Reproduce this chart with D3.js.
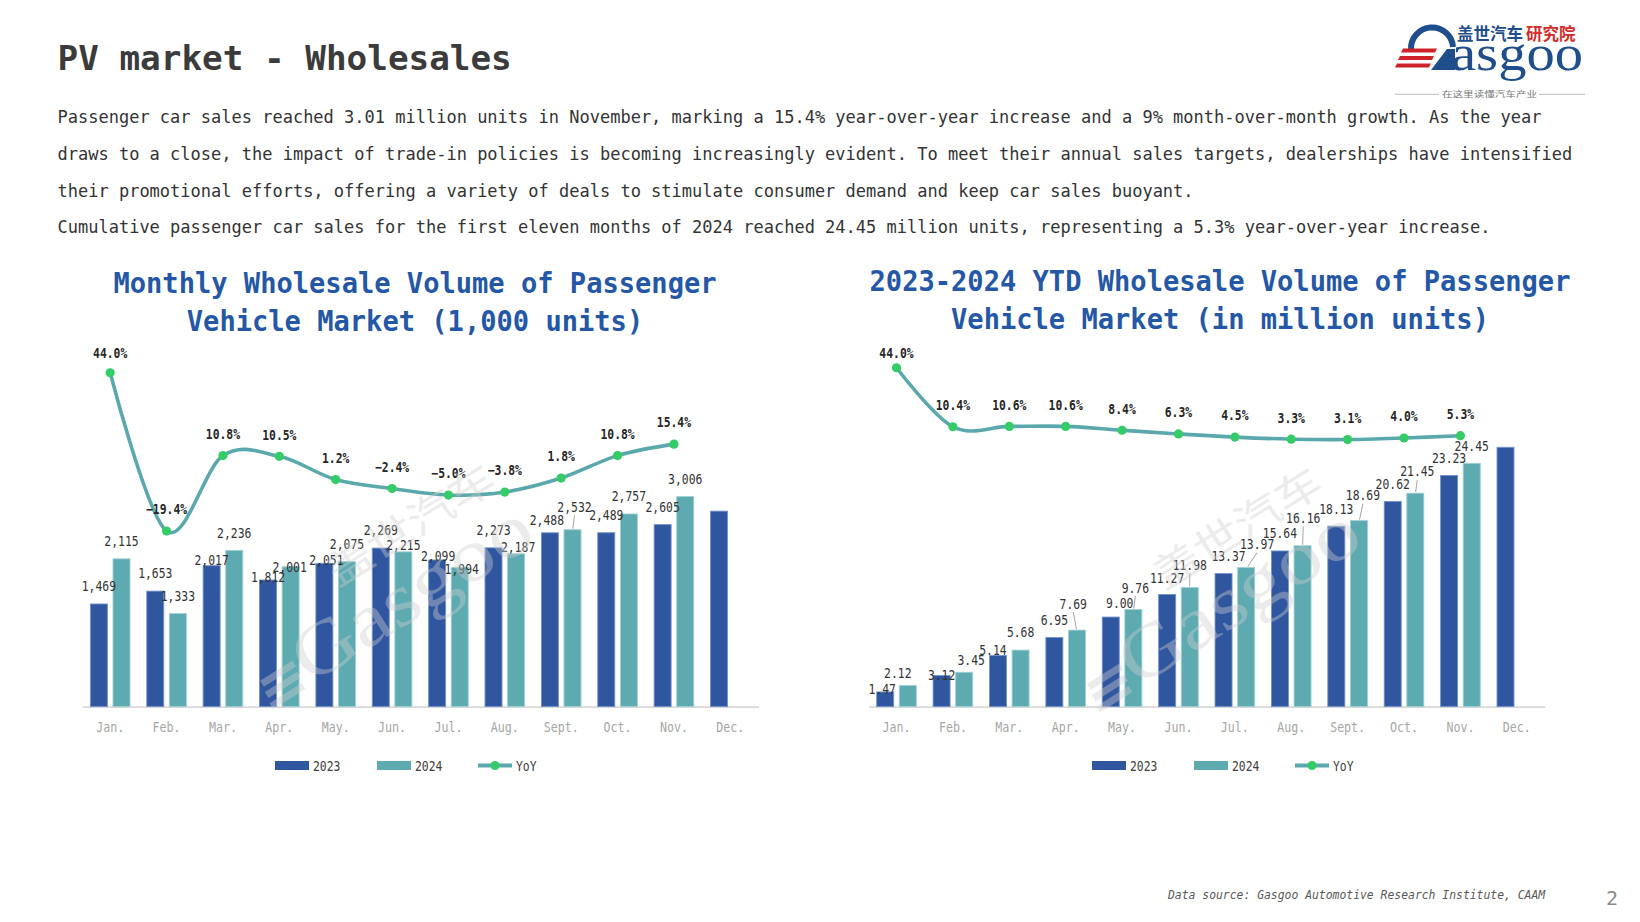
<!DOCTYPE html>
<html>
<head>
<meta charset="utf-8">
<script src="https://cdn.jsdelivr.net/npm/d3@7"></script>
<style>
  body { margin: 0; background: #fff; }
  svg { display: block; }
</style>
</head>
<body>
<svg id="chart" width="1640" height="922"></svg>
<script>
// ---- data ----
const months = ["Jan.", "Feb.", "Mar.", "Apr.", "May.", "Jun.", "Jul.", "Aug.", "Sept.", "Oct.", "Nov.", "Dec."];
// monthly wholesale, 1,000 units
const sales2023 = [1469, 1653, 2017, 1812, 2051, 2269, 2099, 2273, 2488, 2489, 2605, 2798];
const sales2024 = [2115, 1333, 2236, 2001, 2075, 2215, 1994, 2187, 2532, 2757, 3006];
const yoyMonthly = [44.0, -19.4, 10.8, 10.5, 1.2, -2.4, -5.0, -3.8, 1.8, 10.8, 15.4];
// year-to-date, million units
const ytd2023 = [1.47, 3.12, 5.14, 6.95, 9.00, 11.27, 13.37, 15.64, 18.13, 20.62, 23.23, 26.06];
const ytd2024 = [2.12, 3.45, 5.68, 7.69, 9.76, 11.98, 13.97, 16.16, 18.69, 21.45, 24.45];
const yoyYtd = [44.0, 10.4, 10.6, 10.6, 8.4, 6.3, 4.5, 3.3, 3.1, 4.0, 5.3];

const bodyLines = [
  "Passenger car sales reached 3.01 million units in November, marking a 15.4% year-over-year increase and a 9% month-over-month growth. As the year",
  "draws to a close, the impact of trade-in policies is becoming increasingly evident. To meet their annual sales targets, dealerships have intensified",
  "their promotional efforts, offering a variety of deals to stimulate consumer demand and keep car sales buoyant.",
  "Cumulative passenger car sales for the first eleven months of 2024 reached 24.45 million units, representing a 5.3% year-over-year increase."
];

// hand placed data labels (dx, dy, leader line) like in the slide
const nudgeL23 = [[0,0],[0,0],[0,12.5],[0,15],[2,14],[0,0],[1,14],[0,0],[-3,5],[0,0],[0,0]];
const nudgeL24 = [[0,0],[0,0],[0,0],[-1,17.5],[0,0],[0,10.5],[2,19],[2,11],[2,-5,1],[0,0],[0,0]];
const nudgeR23 = [[-3,15],[0,17.5],[-5,12],[0,0],[9,4],[0,1],[5,0],[0,0],[0,0],[0,0],[0,0]];
const nudgeR24 = [[-10,5],[7,5],[0,0],[-3.7,-8.5,1],[2,-4,1],[0,-5,1],[11,-5.5,1],[0.7,-10,1],[4,-7.5,1],[2,-4,1],[0,0]];

const C23 = "#2F569F", C24 = "#5DAAB0", CLINE = "#5BA8AC", CDOT = "#33CC66";
const MONO = "'DejaVu Sans Mono', 'Liberation Mono', monospace";
const CJK = "'Noto Sans CJK SC', sans-serif";
const SERIF = "'Liberation Serif', 'DejaVu Serif', serif";

const svg = d3.select("#chart");

// half-width text, like the slide's chinese font
function txt(parent, str, x, y, fs, o = {}) {
  const t = parent.append("text")
    .attr("x", x).attr("y", y)
    .attr("font-family", o.family || MONO)
    .attr("font-size", fs)
    .attr("fill", o.fill || "#333")
    .attr("text-anchor", o.anchor || "start")
    .text(str);
  if (o.weight) t.attr("font-weight", o.weight);
  if (o.style) t.attr("font-style", o.style);
  if (!o.natural) {
    t.attr("textLength", o.width || str.length * fs * 0.5).attr("lengthAdjust", "spacingAndGlyphs");
  }
  return t;
}

// ---- header ----
txt(svg, "PV market - Wholesales", 57.5, 70, 34.3, { weight: "bold", fill: "#3b3b3b", natural: true });
bodyLines.forEach((s, i) => txt(svg, s, 57.5, 123.3 + i * 36.7, 17, { fill: "#333", natural: true }));

// logo
const logo = svg.append("g");
logo.append("path").attr("d", "M1411,50 A21,21 0 0 1 1453,47")
  .attr("fill", "none").attr("stroke", "#1f4e8c").attr("stroke-width", 6);
[[48.5, 1401], [56, 1398], [63.5, 1395]].forEach(([y, x]) => {
  logo.append("path")
    .attr("d", `M${x + 2},${y} L${x + 36},${y} L${x + 34},${y + 4} L${x},${y + 4} Z`)
    .attr("fill", "#cc2229");
});
logo.append("path").attr("d", "M1431,70 L1447,49 L1455,49 L1455,70 Z").attr("fill", "#1f4e8c");
txt(logo, "asgoo", 1451, 70, 50, { family: SERIF, fill: "#1f4e8c", width: 132 });
txt(logo, "盖世汽车", 1457, 39.5, 16.5, { family: CJK, fill: "#1f4e8c", weight: "bold", natural: true });
txt(logo, "研究院", 1526, 39.5, 16.5, { family: CJK, fill: "#d42a2a", weight: "bold", natural: true });
logo.append("line").attr("x1", 1395).attr("x2", 1439).attr("y1", 94.3).attr("y2", 94.3).attr("stroke", "#aaa").attr("stroke-width", 0.8);
logo.append("line").attr("x1", 1539).attr("x2", 1585).attr("y1", 94.3).attr("y2", 94.3).attr("stroke", "#aaa").attr("stroke-width", 0.8);
txt(logo, "在这里读懂汽车产业", 1442, 97, 8, { family: CJK, fill: "#777", width: 95 });

// ---- charts ----
const base = 706.6;
const fmtK = d3.format(",");
const fmtM = d3.format(".2f");
const fmtP = v => d3.format(".1f")(v) + "%";

function watermark(tx, ty) {
  const w = svg.append("g").attr("transform", `translate(${tx},${ty}) rotate(-32)`)
    .attr("fill", "#cfcfcf").attr("opacity", 0.4).style("pointer-events", "none");
  [[-30, 0], [-18, -2], [-6, -4]].forEach(([yy, xx]) => {
    w.append("rect").attr("x", -40 + xx).attr("y", yy).attr("width", 38).attr("height", 7);
  });
  txt(w, "Gasgoo", 0, 0, 75, { family: SERIF, fill: "#cfcfcf", width: 270 });
  txt(w, "盖世汽车", 75, -68, 40, { family: CJK, fill: "#cfcfcf", width: 190 });
}

function drawChart(cfg) {
  const g = svg.append("g");
  const x = d3.scaleBand().domain(months).range(cfg.xRange);
  const xs = d3.scaleBand().domain(["2023", "2024"]).range([0, x.bandwidth()])
    .paddingInner(0.248).paddingOuter(0.371);
  const cx = i => x(months[i]) + x.bandwidth() / 2;

  // title (width set to the slide's half-width metrics)
  cfg.title.forEach((s, i) =>
    txt(g, s, cfg.titleX, cfg.titleY + i * 37.5, 28, { anchor: "middle", weight: "bold", fill: "#2457A6", width: s.length * 16.3 }));

  // x axis
  const ax = g.append("g").attr("transform", `translate(0,${base})`)
    .call(d3.axisBottom(x).tickSize(0).tickPadding(15.5));
  ax.select(".domain").attr("stroke", "#d9d9d9").attr("stroke-width", 1.6);
  ax.selectAll(".tick text")
    .attr("font-family", MONO).attr("font-size", 14).attr("fill", "#a6a6a6")
    .attr("textLength", d => d.length * 7).attr("lengthAdjust", "spacingAndGlyphs");

  // bars
  const bars = [[cfg.v23, "2023", C23, "#7393cc"], [cfg.v24, "2024", C24, "#9fd0d3"]];
  bars.forEach(([vals, key, col, edge]) => {
    g.append("g").selectAll("rect").data(vals).join("rect")
      .attr("x", (d, i) => x(months[i]) + xs(key))
      .attr("y", d => cfg.y(d))
      .attr("width", xs.bandwidth())
      .attr("height", d => base - cfg.y(d))
      .attr("fill", col).attr("stroke", edge).attr("stroke-width", 0.9);
  });

  watermark(cfg.wm[0], cfg.wm[1]);

  // yoy line
  const line = d3.line().x((d, i) => cx(i)).y(d => cfg.p(d)).curve(d3.curveCardinal.tension(0));
  g.append("path").datum(cfg.yoy).attr("d", line)
    .attr("fill", "none").attr("stroke", CLINE).attr("stroke-width", 3.6);
  g.append("g").selectAll("circle").data(cfg.yoy).join("circle")
    .attr("cx", (d, i) => cx(i)).attr("cy", d => cfg.p(d)).attr("r", 4.6).attr("fill", CDOT);

  // yoy labels
  cfg.yoy.forEach((v, i) => {
    const ly = Math.max(cfg.p(v) - 21.5, 353.3);
    txt(g, fmtP(v), cx(i), ly + 4.8, 13.7, { anchor: "middle", weight: "bold", fill: "#262626" });
  });

  // bar labels
  [[cfg.v23, "2023", cfg.n23], [cfg.v24, "2024", cfg.n24]].forEach(([vals, key, nud]) => {
    nud.forEach((n, i) => {
      const bx = x(months[i]) + xs(key) + xs.bandwidth() / 2;
      const top = cfg.y(vals[i]);
      const lx = bx + n[0];
      const ly = top - 17.5 + n[1];
      if (n[2]) {
        g.append("line").attr("x1", lx).attr("y1", ly + 8)
          .attr("x2", bx + (lx - bx) * 0.15).attr("y2", top - 1)
          .attr("stroke", "#a6a6a6").attr("stroke-width", 1);
      }
      txt(g, cfg.fmt(vals[i]), lx, ly + 4.8, 13.7, { anchor: "middle", fill: "#333" });
    });
  });

  // legend
  const lg = g.append("g").attr("transform", `translate(${cfg.legendX},0)`);
  lg.append("rect").attr("x", 0).attr("y", 761).attr("width", 34).attr("height", 9).attr("fill", C23);
  txt(lg, "2023", 38, 770.5, 13.7, { fill: "#404040" });
  lg.append("rect").attr("x", 102).attr("y", 761).attr("width", 34).attr("height", 9).attr("fill", C24);
  txt(lg, "2024", 140, 770.5, 13.7, { fill: "#404040" });
  lg.append("line").attr("x1", 203).attr("x2", 237).attr("y1", 765.5).attr("y2", 765.5)
    .attr("stroke", CLINE).attr("stroke-width", 4);
  lg.append("circle").attr("cx", 220).attr("cy", 765.5).attr("r", 4.6).attr("fill", CDOT);
  txt(lg, "YoY", 241, 770.5, 13.7, { fill: "#404040" });
}

drawChart({
  xRange: [82, 758.5],
  y: d3.scaleLinear().domain([0, 3500]).range([base, base - 3500 * 0.06986]),
  p: d3.scaleLinear().domain([-20, 50]).range([532.5, 357.75]),
  v23: sales2023, v24: sales2024, yoy: yoyMonthly,
  n23: nudgeL23, n24: nudgeL24, fmt: fmtK,
  title: ["Monthly Wholesale Volume of Passenger", "Vehicle Market (1,000 units)"],
  titleX: 415, titleY: 293,
  legendX: 275,
  wm: [310, 685]
});

drawChart({
  xRange: [868.3, 1545],
  y: d3.scaleLinear().domain([0, 30]).range([base, base - 30 * 9.95]),
  p: d3.scaleLinear().domain([0, 50]).range([445, 357.2]),
  v23: ytd2023, v24: ytd2024, yoy: yoyYtd,
  n23: nudgeR23, n24: nudgeR24, fmt: fmtM,
  title: ["2023-2024 YTD Wholesale Volume of Passenger", "Vehicle Market (in million units)"],
  titleX: 1220, titleY: 291,
  legendX: 1092,
  wm: [1137, 688]
});

// footer
txt(svg, "Data source: Gasgoo Automotive Research Institute, CAAM", 1168, 899, 11.4, { style: "italic", fill: "#595959", natural: true });
txt(svg, "2", 1612, 905, 20, { anchor: "middle", fill: "#8c8c8c", natural: true });
</script>
</body>
</html>
